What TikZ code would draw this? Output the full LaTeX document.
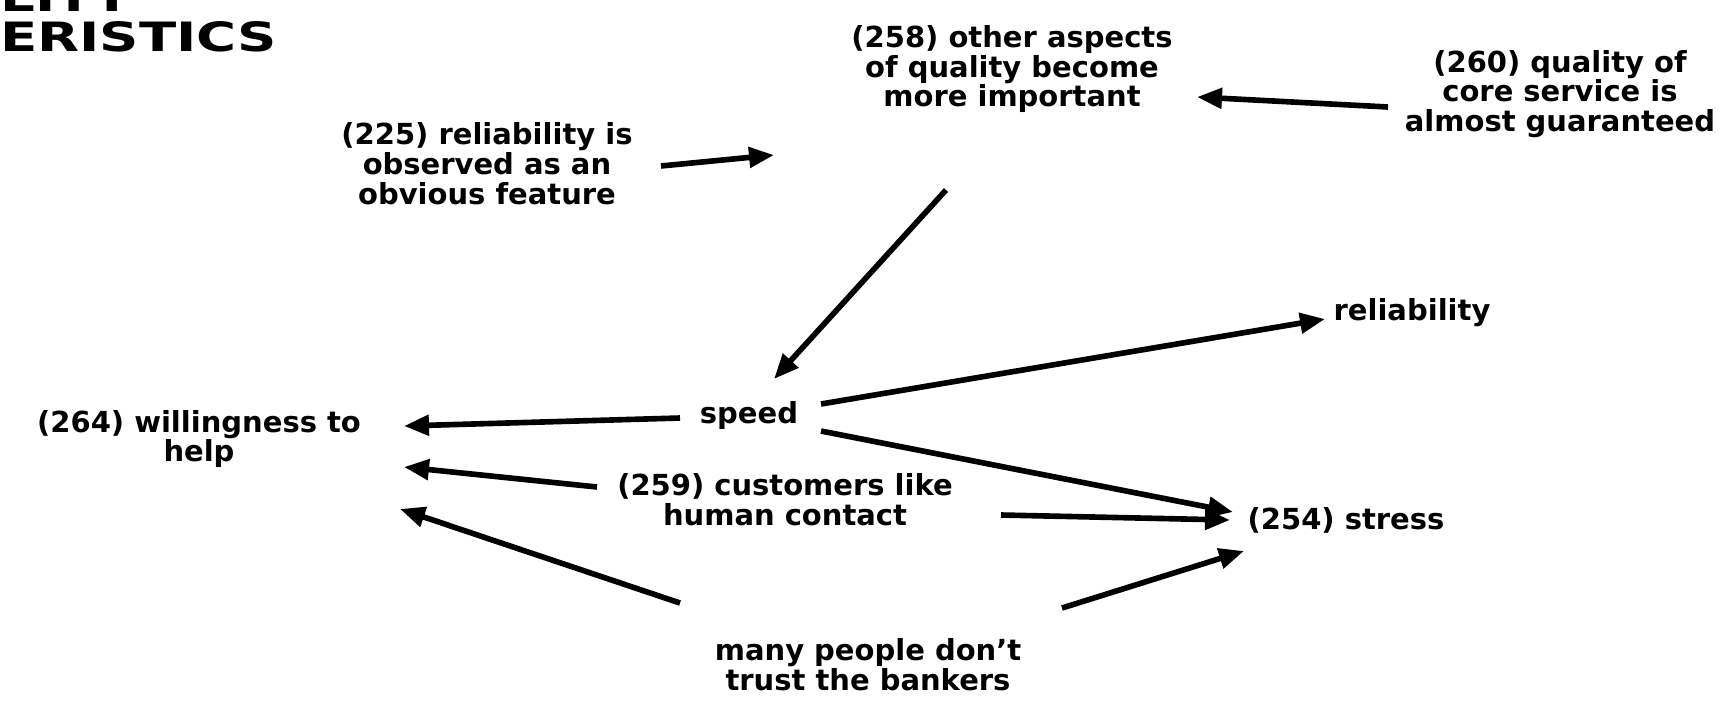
\documentclass[tikz,border=0pt]{standalone}
\usepackage{fontspec}
\setmainfont{DejaVu Sans}
\newfontfamily\titlefont[FakeStretch=1.35]{DejaVu Sans Bold}
\usetikzlibrary{arrows.meta}

\begin{document}
\begin{tikzpicture}[x=0.02cm, y=-0.02cm,
    lbl/.style={align=center, inner sep=0pt, font=\fontsize{16.5}{17}\selectfont\bfseries},
    ttl/.style={anchor=base west, inner sep=0pt, font=\titlefont\fontsize{23}{23}\selectfont},
    conn/.style={line width=3.2pt, -{Triangle[length=5mm, width=4mm]}}]
  \clip (0,0) rectangle (1734,711);

  % Heading (cut at the page edge)
  \node[ttl] (head1) at (0,11) {LITY};
  \node[ttl] (head2) at (0,51) {ERISTICS};

  % Concepts
  \node[lbl] (r225) at (487,164) {(225) reliability is\\observed as an\\obvious feature};
  \node[lbl] (o258) at (1012,69) {(258) other aspects\\of quality become\\more important};
  \node[lbl] (q260) at (1560,94) {(260) quality of\\core service is\\almost guaranteed};
  \node[lbl] (rel) at (1412,313) {reliability};
  \node[lbl] (speed) at (749,415) {speed};
  \node[lbl] (w264) at (199,439) {(264) willingness to\\help};
  \node[lbl] (h259) at (785,500) {(259) customers like\\human contact};
  \node[lbl] (s254) at (1346,520) {(254) stress};
  \node[lbl] (many) at (868,665) {many people don't\\trust the bankers};

  % Links
  \draw[conn] ([shift={(174,2)}]r225.center) -- ([shift={(-238,86)}]o258.center);
  \draw[conn] ([shift={(-172,13)}]q260.center) -- ([shift={(185,28)}]o258.center);
  \draw[conn] ([shift={(-66,121)}]o258.center) -- ([shift={(25,-36)}]speed.center);
  \draw[conn] ([shift={(72,-11)}]speed.center) -- ([shift={(-87,6)}]rel.center);
  \draw[conn] ([shift={(-69,3)}]speed.center) -- ([shift={(205,-13)}]w264.center);
  \draw[conn] ([shift={(72,16)}]speed.center) -- ([shift={(-113,-8)}]s254.center);
  \draw[conn] ([shift={(-188,-13)}]h259.center) -- ([shift={(205,28)}]w264.center);
  \draw[conn] ([shift={(216,15)}]h259.center) -- ([shift={(-116,0)}]s254.center);
  \draw[conn] ([shift={(-188,-62)}]many.center) -- ([shift={(201,70)}]w264.center);
  \draw[conn] ([shift={(194,-57)}]many.center) -- ([shift={(-102,31)}]s254.center);
\end{tikzpicture}
\end{document}
